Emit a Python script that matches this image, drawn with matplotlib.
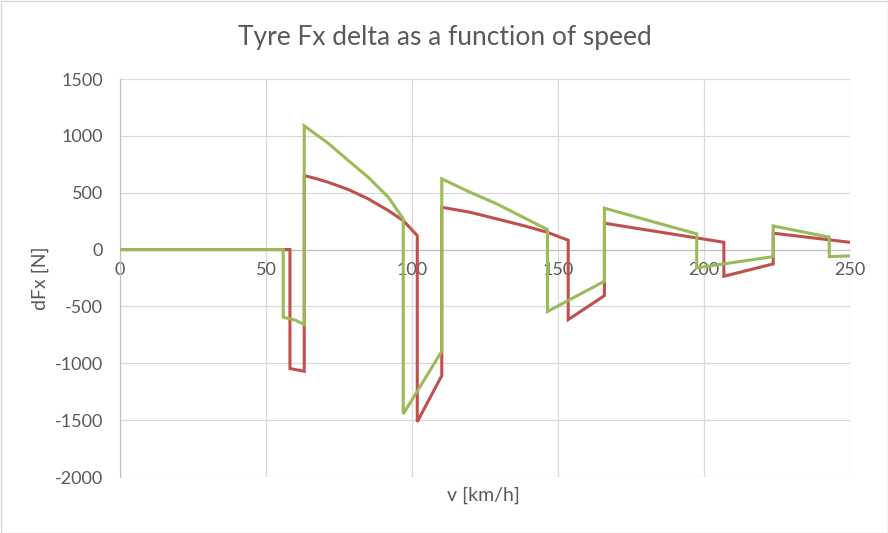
import matplotlib
matplotlib.use("Agg")
import matplotlib.pyplot as plt
from matplotlib.patches import Rectangle

# speed [km/h] and dFx [N] for both series
v_red = [0, 58.2, 58.2, 63.1, 63.1, 67, 71.3, 78.2, 85.0, 91.9, 97.0, 101.8, 101.8,
         110.2, 110.2, 119.9, 129.0, 138.1, 146.3, 153.5, 153.5, 165.9, 165.9,
         206.8, 206.8, 223.7, 223.7, 250]
dfx_red = [0, 0, -1046, -1070, 651, 625, 592, 528, 446, 343, 255, 123, -1515,
           -1108, 372, 328, 270, 211, 152, 82, -616, -405, 232,
           64, -235, -126, 144, 64]

v_green = [0, 55.9, 55.9, 60, 63.1, 63.1, 67, 71.3, 78.2, 85.0, 91.9, 97.0, 97.0,
           110.2, 110.2, 119.9, 129.0, 138.1, 146.4, 146.4, 165.9, 165.9,
           197.5, 197.5, 223.7, 223.7, 242.9, 242.9, 250]
dfx_green = [0, 0, -595, -620, -660, 1088, 1015, 935, 783, 636, 460, 270, -1446,
             -894, 622, 504, 402, 284, 176, -545, -278, 364,
             138, -161, -62, 208, 109, -62, -56]

x_ticks = [0, 50, 100, 150, 200, 250]
y_ticks = [-2000, -1500, -1000, -500, 0, 500, 1000, 1500]

plt.rcParams["font.family"] = ["Lato", "DejaVu Sans"]
plt.rcParams["axes.unicode_minus"] = False
text_col = "#595959"
grid_col = "#D9D9D9"

fig = plt.figure(figsize=(8.88, 5.33), dpi=100)
ax = fig.add_axes([120 / 888, 1 - 477 / 533, 730 / 888, 398 / 533])

ax.plot(v_red, dfx_red, color="#C0504D", lw=2.2, solid_joinstyle="miter", zorder=3)
ax.plot(v_green, dfx_green, color="#9BBB59", lw=2.2, solid_joinstyle="miter", zorder=4)

ax.set_xlim(0, 250)
ax.set_ylim(-2000, 1500)
ax.set_xticks(x_ticks)
ax.set_yticks(y_ticks)
ax.grid(True, color=grid_col, lw=0.9)
ax.set_axisbelow(True)

for side in ["top", "right"]:
    ax.spines[side].set_visible(False)
ax.spines["left"].set_color("#BFBFBF")
ax.spines["bottom"].set_color("#BFBFBF")
ax.spines["bottom"].set_position(("data", 0))
ax.tick_params(length=0, labelsize=13, labelcolor=text_col)
ax.tick_params(axis="y", pad=12)
ax.tick_params(axis="x", pad=9)

fig.text(445 / 888, 1 - 37 / 533, "Tyre Fx delta as a function of speed",
         ha="center", va="center", fontsize=19, color=text_col)
fig.text(483 / 888, 1 - 495 / 533, "v [km/h]", ha="center", va="center",
         fontsize=14, color=text_col)
fig.text(40 / 888, 1 - 278 / 533, "dFx [N]", ha="center", va="center",
         rotation=90, fontsize=14, color=text_col)

fig.patches.append(Rectangle((0.5 / 888, 0.5 / 533), 887 / 888, 532 / 533,
                             transform=fig.transFigure, fill=False,
                             edgecolor=grid_col, lw=1))

fig.savefig("out.png", dpi=100)
